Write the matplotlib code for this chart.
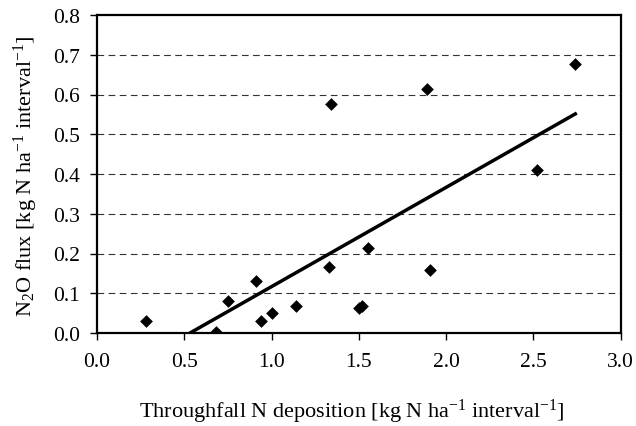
import matplotlib
matplotlib.use("Agg")
import matplotlib.pyplot as plt
import numpy as np

plt.rcParams['font.family'] = ['Liberation Serif', 'DejaVu Serif']
plt.rcParams['mathtext.fontset'] = 'custom'
plt.rcParams['mathtext.rm'] = 'Liberation Serif'
plt.rcParams['mathtext.it'] = 'Liberation Serif:italic'

deposition = [0.28, 0.68, 0.75, 0.91, 0.94, 1.00, 1.14, 1.33, 1.34, 1.50, 1.52, 1.55, 1.89, 1.91, 2.52, 2.74]
n2o_flux = [0.031, 0.003, 0.081, 0.130, 0.031, 0.050, 0.069, 0.165, 0.576, 0.063, 0.069, 0.214, 0.614, 0.158, 0.411, 0.676]

trend_slope = 0.2497
trend_intercept = -0.133
trend_x_range = [0.533, 2.74]

xticks = [0.0, 0.5, 1.0, 1.5, 2.0, 2.5, 3.0]
yticks = [0.0, 0.1, 0.2, 0.3, 0.4, 0.5, 0.6, 0.7, 0.8]

fig = plt.figure(figsize=(6.36, 4.27), dpi=100)
ax = fig.add_axes([97/636, 1-334/427, (620.7-97)/636, (334-16)/427])

for yv in yticks[1:-1]:
    ax.axhline(yv, color='#333333', lw=0.8, ls=(0, (6, 4)), zorder=1)

ax.scatter(deposition, n2o_flux, marker='D', s=42, color='black', zorder=3, linewidths=0)
tx = np.array(trend_x_range)
ax.plot(tx, trend_slope * tx + trend_intercept, color='black', lw=2.5, zorder=2)

ax.set_xlim(0, 3.0)
ax.set_ylim(0, 0.8)
ax.set_xticks(xticks)
ax.set_yticks(yticks)
ax.set_xticklabels([f"{v:.1f}" for v in xticks])
ax.set_yticklabels([f"{v:.1f}" for v in yticks])
ax.tick_params(direction='out', length=5, width=1.0, labelsize=15.5, colors='black')
ax.tick_params(axis='x', pad=9)
ax.tick_params(axis='y', pad=7)
for s in ax.spines.values():
    s.set_linewidth(1.6)
    s.set_color('black')

ax.set_xlabel(r"Throughfall N deposition [kg N ha$^{-1}$ interval$^{-1}$]", fontsize=16)
ax.set_ylabel(r"N$_2$O flux [kg N ha$^{-1}$ interval$^{-1}$]", fontsize=16)
ax.xaxis.set_label_coords((352 - 97) / 523.7, (334 - 398) / 318)
ax.yaxis.set_label_coords((40 - 97) / 523.7, (334 - 176) / 318)

fig.savefig("out.png", dpi=100)
